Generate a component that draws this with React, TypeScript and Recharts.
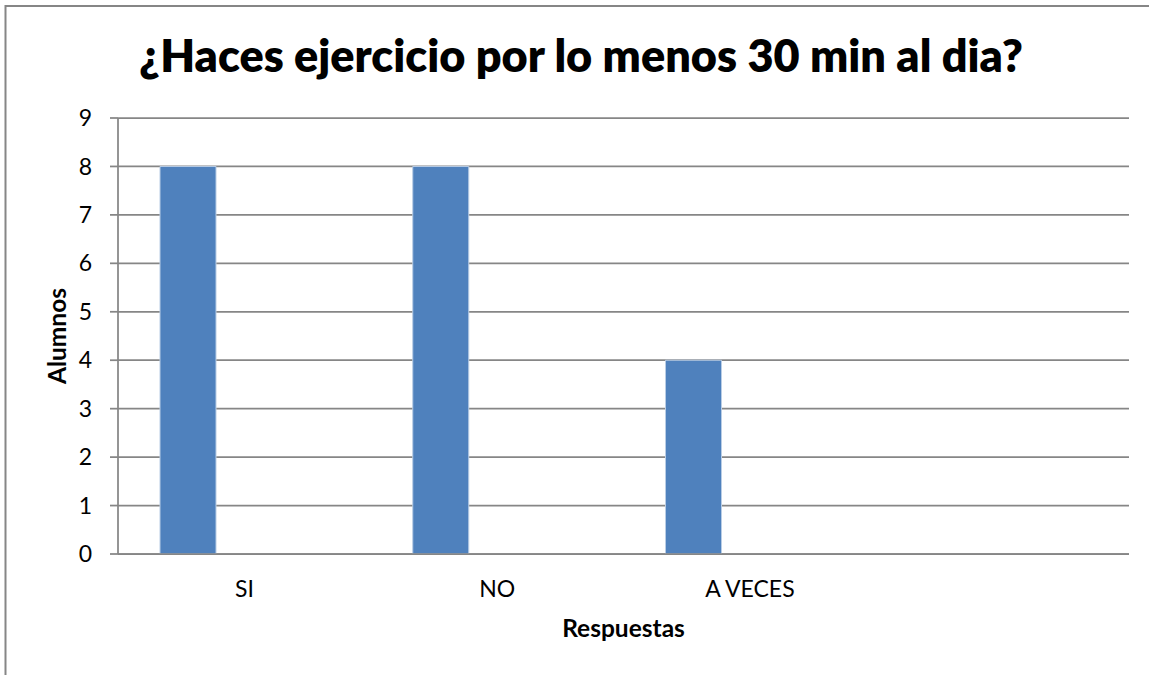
import { BarChart, Bar, XAxis, YAxis, CartesianGrid } from 'recharts'

const categories = ['SI', 'NO', 'A VECES', '']
const serie1 = [8, 8, 4, null]
const serie2 = [null, null, null, null]
const serie3 = [null, null, null, null]
const yTicks = [0, 1, 2, 3, 4, 5, 6, 7, 8, 9]

const title = '¿Haces ejercicio por lo menos 30 min al dia?'
const xTitle = 'Respuestas'
const yTitle = 'Alumnos'

const data = categories.map((name, i) => ({
  name,
  s1: serie1[i],
  s2: serie2[i],
  s3: serie3[i],
}))

const axisColor = '#868686'
const font = 'Lato, "Open Sans", sans-serif'

function CategoryTick(props: any) {
  const { x, y, payload } = props
  return (
    <text x={x} y={y + 43} textAnchor="middle" fontFamily={font} fontSize={23} fill="#000">
      {payload.value}
    </text>
  )
}

export default function App() {
  return (
    <div style={{ position: 'relative', width: 1149, height: 675, background: '#fff' }}>
      <style>{`body{margin:0}`}</style>
      <BarChart
        width={1149}
        height={675}
        data={data}
        margin={{ top: 118, right: 20, bottom: 0, left: 0 }}
        barCategoryGap={42}
        barGap={0}
      >
        <CartesianGrid vertical={false} stroke={axisColor} strokeWidth={1.75} />
        <XAxis
          dataKey="name"
          height={121}
          tickLine={false}
          tickSize={0}
          tickMargin={0}
          axisLine={{ stroke: axisColor, strokeWidth: 1.75 }}
          tick={<CategoryTick />}
          interval={0}
          label={{
            value: xTitle,
            position: 'insideBottom',
            offset: 38,
            style: { fontFamily: font, fontSize: 24.5, fontWeight: 700, fill: '#000' },
          }}
        />
        <YAxis
          width={118}
          domain={[0, 9]}
          ticks={yTicks}
          interval={0}
          tickSize={8}
          tickMargin={18}
          tickLine={{ stroke: axisColor, strokeWidth: 1.75 }}
          axisLine={{ stroke: axisColor, strokeWidth: 1.75 }}
          tick={{ fontFamily: font, fontSize: 23, fill: '#000' }}
          label={{
            value: yTitle,
            angle: -90,
            position: 'center',
            dx: -2,
            style: { fontFamily: font, fontSize: 24.5, fontWeight: 700, fill: '#000' },
          }}
        />
        <Bar dataKey="s1" fill="#4F81BD" stroke="#b9cde5" strokeWidth={1} isAnimationActive={false} />
        <Bar dataKey="s2" fill="#C0504D" isAnimationActive={false} />
        <Bar dataKey="s3" fill="#9BBB59" isAnimationActive={false} />
      </BarChart>
      <svg
        width={1149}
        height={675}
        style={{ position: 'absolute', left: 0, top: 0, pointerEvents: 'none' }}
      >
        <path d="M5.5 675 L5.5 6 L1149 6" fill="none" stroke={axisColor} strokeWidth={2} />
        <text x={581} y={72} textAnchor="middle" fontFamily={font} fontSize={45} fontWeight={800} fill="#000">
          {title}
        </text>
      </svg>
    </div>
  )
}
